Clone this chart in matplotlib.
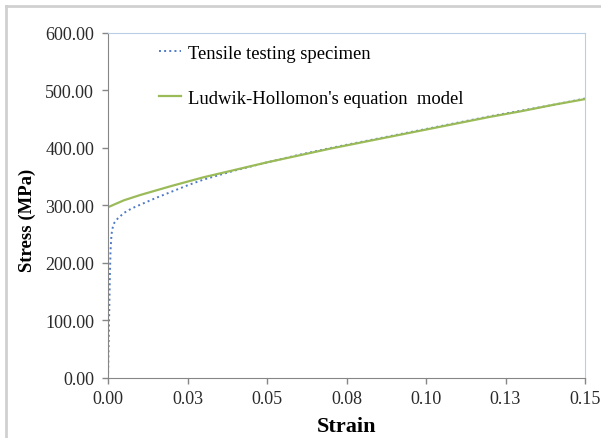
import numpy as np
import matplotlib.pyplot as plt
from matplotlib.lines import Line2D

# Strain / stress points of the measured curve
test_strain = [0.0, 0.0002, 0.0004, 0.0006, 0.0008, 0.0011, 0.0015, 0.002, 0.003,
               0.005, 0.0075, 0.01, 0.015, 0.02, 0.025, 0.03, 0.04, 0.05, 0.06,
               0.07, 0.08, 0.09, 0.10, 0.11, 0.12, 0.13, 0.14, 0.15]
test_stress = [0.0, 60.0, 120.0, 180.0, 222.0, 250.0, 262.0, 270.0, 277.0,
               287.0, 295.0, 301.0, 313.0, 324.0, 335.0, 345.0, 361.0, 375.0, 388.0,
               400.0, 411.0, 422.0, 433.0, 444.0, 455.0, 465.0, 475.0, 486.0]

# Ludwik-Hollomon fit
model_strain = [0.0, 0.005, 0.01, 0.02, 0.03, 0.04, 0.05, 0.06, 0.07, 0.08,
                0.09, 0.10, 0.11, 0.12, 0.13, 0.14, 0.15]
model_stress = [297.0, 309.0, 318.0, 334.0, 349.0, 362.0, 375.0, 387.0, 399.0, 410.0,
                421.0, 432.0, 443.0, 454.0, 464.0, 475.0, 485.0]

x_ticks = [0.0, 0.025, 0.05, 0.075, 0.10, 0.125, 0.15]
x_tick_labels = ['0.00', '0.03', '0.05', '0.08', '0.10', '0.13', '0.15']
y_ticks = [0, 100, 200, 300, 400, 500, 600]
y_tick_labels = ['0.00', '100.00', '200.00', '300.00', '400.00', '500.00', '600.00']

plt.rcParams['font.family'] = ['Liberation Serif', 'DejaVu Serif']

fig = plt.figure(figsize=(6.01, 4.39), dpi=100)
ax = fig.add_axes([0.1797, 0.1367, 0.7937, 0.7859])

# outer chart border
fig.add_artist(Line2D([6 / 601, 6 / 601], [0, 1 - 7 / 439], transform=fig.transFigure,
                      color='#d0d0d0', lw=2))
fig.add_artist(Line2D([6 / 601, 1], [1 - 7 / 439, 1 - 7 / 439], transform=fig.transFigure,
                      color='#d0d0d0', lw=2))

ax.plot(test_strain, test_stress, linestyle=':', color='#4f7ac7', lw=1.4,
        label='Tensile testing specimen')
ax.plot(model_strain, model_stress, linestyle='-', color='#9bbb59', lw=1.6,
        label="Ludwik-Hollomon's equation  model")

ax.set_xlim(0, 0.15)
ax.set_ylim(0, 600)
ax.set_xticks(x_ticks)
ax.set_xticklabels(x_tick_labels)
ax.set_yticks(y_ticks)
ax.set_yticklabels(y_tick_labels)
ax.tick_params(axis='both', direction='out', length=4, width=1, color='#868686',
               labelsize=13, labelcolor='#2a2a2a')
ax.tick_params(axis='y', pad=6)
ax.tick_params(axis='x', pad=5)

for side in ['left', 'bottom']:
    ax.spines[side].set_color('#868686')
for side in ['top', 'right']:
    ax.spines[side].set_color('#b9cde5')

ax.set_xlabel('Strain', fontsize=16, fontweight='bold', labelpad=6)
ax.set_ylabel('Stress (MPa)', fontsize=13.5, fontweight='bold')
ax.yaxis.set_label_coords(-0.151, 0.461)

ax.legend(loc='upper left', bbox_to_anchor=(0.107, 0.966), frameon=False, fontsize=13.4,
          borderpad=0, borderaxespad=0, handlelength=1.2, handletextpad=0.34,
          labelspacing=1.5)

fig.savefig('out.png', dpi=100)
